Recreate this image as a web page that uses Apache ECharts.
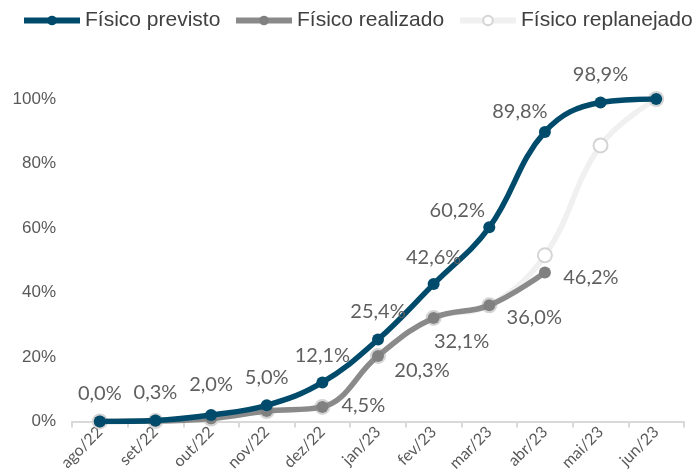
<!DOCTYPE html>
<html><head><meta charset="utf-8">
<script src="https://cdn.jsdelivr.net/npm/echarts@6/dist/echarts.min.js"></script>
<style>html,body{margin:0;padding:0;background:#fff}#c{width:693px;height:474px}</style>
</head><body><div id="c"></div>
<script>
var categories = ['ago/22','set/22','out/22','nov/22','dez/22','jan/23','fev/23','mar/23','abr/23','mai/23','jun/23'];
var previsto = [0.0, 0.3, 2.0, 5.0, 12.1, 25.4, 42.6, 60.2, 89.8, 98.9, 100.0];
var realizado = [0.0, 0.1, 0.9, 3.2, 4.5, 20.3, 32.1, 36.0, 46.2, null, null];
var replanejado = [0.0, 0.1, 0.9, 3.2, 4.5, 20.3, 32.1, 36.0, 51.5, 85.6, 100.0];
var yTicks = [0, 20, 40, 60, 80, 100];
var seriesNames = ['Físico previsto', 'Físico realizado', 'Físico replanejado'];

function fmt(v){ return v.toFixed(1).replace('.', ',') + '%'; }

var labelFont = {fontFamily: 'Lato', fontSize: 20, color: '#5f5f5f'};
// label offsets (style)
var prevOff = [[0,-28],[0,-28],[0,-30],[0,-28],[0,-27],[0,-28],[0,-27],[-32,-17],[-25,-20],[0,-28],null];
var realOff = [null,null,null,null,[41,-1],[44,15],[28,24],[45,12],[46,5],null,null];

function build(vals, offs){
  return vals.map(function(v,i){
    var o = offs[i];
    if (v === null) return null;
    if (!o) return {value: v, label: {show: false}};
    return {value: v, label: Object.assign({show: true, position: 'inside', offset: o, formatter: fmt(v)}, labelFont)};
  });
}

var legendLefts = [21, 233, 457];
var legends = seriesNames.map(function(n, i){
  return {
    top: 10, left: legendLefts[i], itemWidth: 56, itemHeight: 12, padding: 0,
    textStyle: {fontFamily: 'Liberation Sans', fontSize: 21, color: '#404040'},
    lineStyle: {width: 6},
    data: [n]
  };
});

var chart = echarts.init(document.getElementById('c'));
chart.setOption({
  animation: false,
  legend: legends,
  grid: {left: 72, right: 9, top: 99, bottom: 51},
  xAxis: {
    type: 'category', data: categories, boundaryGap: true,
    axisLine: {lineStyle: {color: '#d9d9d9', width: 2}},
    axisTick: {show: true, length: 6, lineStyle: {color: '#d9d9d9', width: 2}},
    axisLabel: {rotate: 45, fontFamily: 'Lato', fontSize: 16, color: '#595959', margin: 8, interval: 0}
  },
  yAxis: {
    type: 'value', min: yTicks[0], max: yTicks[yTicks.length-1], interval: 20,
    axisLine: {show: false}, axisTick: {show: false}, splitLine: {show: false},
    axisLabel: {formatter: '{value}%', fontFamily: 'Liberation Sans', fontSize: 17, color: '#595959', margin: 16}
  },
  series: [
    {
      name: seriesNames[2], type: 'line', smooth: 0.4, data: replanejado, z: 1,
      symbol: 'circle', symbolSize: 14,
      lineStyle: {color: '#f0f0f0', width: 5.5},
      itemStyle: {color: '#ffffff', borderColor: '#d4d4d4', borderWidth: 2},
      label: {show: false}
    },
    {
      name: seriesNames[1], type: 'line', smooth: 0.4, data: build(realizado, realOff), z: 2,
      symbol: 'circle', symbolSize: 12,
      lineStyle: {color: '#8a8a8a', width: 5.5},
      itemStyle: {color: '#808080'}
    },
    {
      name: seriesNames[0], type: 'line', smooth: 0.4, data: build(previsto, prevOff), z: 3,
      symbol: 'circle', symbolSize: 12,
      lineStyle: {color: '#004b6b', width: 5.5},
      itemStyle: {color: '#004b6b'}
    }
  ]
});
</script></body></html>
